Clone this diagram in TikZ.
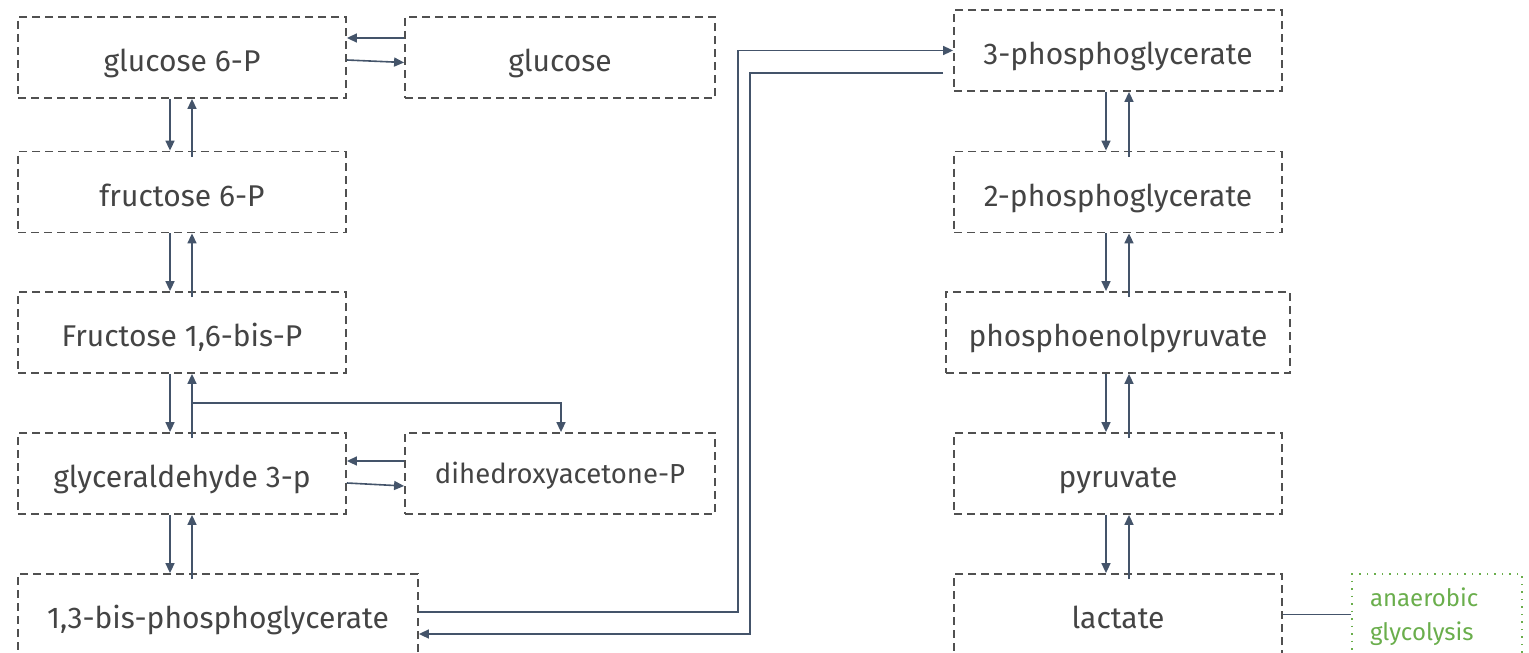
\documentclass[tikz,border=0pt]{standalone}
\usepackage{fontspec}
\setmainfont{Fira Sans}
\usetikzlibrary{arrows.meta,calc}
\definecolor{boxgray}{HTML}{505050}
\definecolor{txtgray}{HTML}{444444}
\definecolor{arrowblue}{HTML}{44546A}
\definecolor{anagreen}{HTML}{6AAE4C}
\begin{document}
\begin{tikzpicture}[x=1pt,y=-1pt,
  box/.style={draw=boxgray, line width=1.8pt, dash pattern=on 8pt off 5pt,
    minimum height=81pt, inner sep=0pt, text=txtgray,
    text height=28.4pt, text depth=0pt,
    font=\fontsize{30}{36}\selectfont},
  anabox/.style={draw=anagreen, line width=1.5pt, dash pattern=on 1.5pt off 6pt,
    minimum height=81pt, text width=134pt, inner xsep=18pt, inner ysep=0pt,
    text height=0pt, text depth=15.6pt,
    align=left, text=anagreen, font=\fontsize{24}{33.3}\selectfont},
  link/.style={draw=arrowblue, line width=1.6pt},
  arr/.style={link, -{Triangle[length=10pt,width=9pt]}}]

\useasboundingbox (0,0) rectangle (1529,653);
\clip (0,0) rectangle (1529,653);

% left column: glucose to 1,3-bis-phosphoglycerate
\node[box, minimum width=328pt] (g6p)  at (182,57.5)  {glucose 6-P};
\node[box, minimum width=310pt] (glc)  at (560,57.5)  {glucose};
\node[box, minimum width=328pt] (f6p)  at (182,192)   {fructose 6-P};
\node[box, minimum width=328pt] (f16)  at (182,332.5) {Fructose 1,6-bis-P};
\node[box, minimum width=328pt] (ga3p) at (182,473.5) {glyceraldehyde 3-p};
\node[box, minimum width=310pt, text height=20pt, font=\fontsize{27.5}{33}\selectfont] (dhap) at (560,473.5) {dihedroxyacetone-P};
\node[box, minimum width=400pt] (bpg)  at (218,614.5) {1,3-bis-phosphoglycerate};

% right column: 3-phosphoglycerate to lactate
\node[box, minimum width=328pt] (pg3) at (1118,50.5)  {3-phosphoglycerate};
\node[box, minimum width=328pt] (pg2) at (1118,192)   {2-phosphoglycerate};
\node[box, minimum width=344pt] (pep) at (1118,332.5) {phosphoenolpyruvate};
\node[box, minimum width=328pt] (pyr) at (1118,473.5) {pyruvate};
\node[box, minimum width=328pt] (lac) at (1118,614.5) {lactate};
\node[anabox, minimum width=170pt] (ana) at (1437,614.5) {anaerobic\\glycolysis};

% glucose <-> glucose 6-P
\draw[arr] ([yshift=19.5pt]glc.west) -- ([yshift=19.5pt]g6p.east);
\draw[arr] ([yshift=-2.5pt]g6p.east) -- ([yshift=-5pt]glc.west);

% reversible steps, left column (arrows keep the x of the upper box)
\foreach \a/\b in {g6p/f6p, f6p/f16, f16/ga3p, ga3p/bpg}{
  \draw[arr] ([xshift=-12pt]\a.south) -- ([xshift=-12pt]\a.south |- \b.north);
  \draw[arr] ([xshift=10pt,yshift=-6pt]\a.south |- \b.north) -- ([xshift=10pt]\a.south);
}

% branch from fructose 1,6-bis-P to dihedroxyacetone-P
\coordinate (fbr) at (192,403);
\draw[arr] (fbr) -| ([xshift=1pt]dhap.north);

% glyceraldehyde 3-p <-> dihedroxyacetone-P
\draw[arr] ([yshift=12.5pt]dhap.west) -- ([yshift=12.5pt]ga3p.east);
\draw[arr] ([yshift=-9.5pt]ga3p.east) -- ([yshift=-12.5pt]dhap.west);

% 1,3-bis-phosphoglycerate <-> 3-phosphoglycerate
\draw[arr] ([yshift=2.5pt]bpg.east) -- ++(319,0) |- (pg3.west);
\draw[arr] ([xshift=-10pt,yshift=-22.5pt]pg3.west) -| (750,634) -- ([yshift=-19.5pt]bpg.east);

% reversible steps, right column
\foreach \a/\b in {pg3/pg2, pg2/pep, pep/pyr, pyr/lac}{
  \draw[arr] ([xshift=-12pt]\a.south) -- ([xshift=-12pt]\a.south |- \b.north);
  \draw[arr] ([xshift=11pt,yshift=-6pt]\a.south |- \b.north) -- ([xshift=11pt]\a.south);
}

% lactate -- anaerobic glycolysis
\draw[link] (lac.east) -- (ana.west);
\end{tikzpicture}
\end{document}
